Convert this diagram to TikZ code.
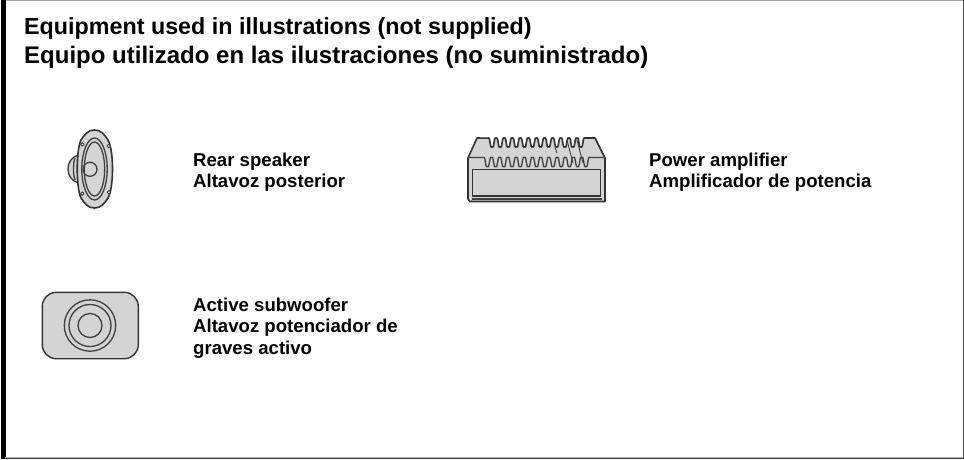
\documentclass[tikz,border=0pt]{standalone}
\usepackage{fontspec}
\setmainfont{Liberation Sans}
\tikzset{
  px/.style={x=1pt,y=-1pt},
  label/.style={anchor=north west,inner sep=0pt,font=\fontsize{18.6}{21.5}\selectfont\bfseries,align=left},
  titlebox/.style={anchor=north west,inner sep=0pt,font=\fontsize{23.3}{29}\selectfont\bfseries,align=left},
  part/.style={draw=black!80,fill=black!17,line width=1.3pt,line join=round},
  thin part/.style={draw=black!75,line width=1.3pt,line join=round},
}
\begin{document}
\begin{tikzpicture}[px]
\useasboundingbox (0,0) rectangle (964,459);
\fill[white] (0,0) rectangle (964,459);
% frame
\draw[black!35,line width=1pt] (5,0.5) -- (964,0.5);
\fill[black] (1,0) rectangle (5.5,459);
\draw[black!30,line width=1pt] (5,457) -- (964,457);
\draw[black!75,line width=1.2pt] (5,458.4) -- (964,458.4);
\draw[black!70,line width=1pt] (963,0) -- (963,459);
% titles
\node[titlebox] (title) at (24,17.5) {Equipment used in illustrations (not supplied)\\{\fontsize{24}{29}\selectfont Equipo utilizado en las ilustraciones (no suministrado)}};
% rear speaker
\draw[part] (79,155) .. controls (71,157) and (68,163) .. (68,169) .. controls (68,175) and (71,181) .. (79,183) -- cycle;
\draw[thin part] (75,158) .. controls (73,164) and (73,174) .. (75,180);
\draw[part,line width=1.6pt] (94.5,130) .. controls (101,130) and (104,134) .. (108,140)
  .. controls (114,150) and (114,188) .. (108,198)
  .. controls (104,204) and (101,208) .. (94.5,208)
  .. controls (88,208) and (85,204) .. (81,198)
  .. controls (76,188) and (76,150) .. (81,140)
  .. controls (85,134) and (88,130) .. (94.5,130) -- cycle;
\draw[thin part] (94.5,169) ellipse [x radius=12.7,y radius=31];
\draw[thin part] (94.5,169) ellipse [x radius=10.2,y radius=27];
\draw[thin part] (90,169.3) circle [radius=7];
\foreach \p in {(82.3,144.5),(108.7,146),(82.3,193.7),(109,192.3)}
  \draw[thin part,fill=white,line width=.9pt] \p circle [radius=1.8];
\node[label] (speaker) at (193,152.5) {Rear speaker\\Altavoz posterior};
% power amplifier
\draw[part,line width=1.6pt] (470,201.5) -- (605,201.5) -- (605,158) -- (595,138) -- (585,138)
  -- plot[domain=12:0,samples=360,smooth] ({488+\x*8.08},{142.5-5.2*(cos(360*\x)-cos(1080*\x)/6)})
  -- (477,138) -- (468,158) -- (468,199) -- cycle;
\draw[thin part] (468,157.5) -- (483.3,157.5)
  -- plot[domain=0:13,samples=390,smooth] ({483.3+\x*8.2},{162-5.4*(cos(360*\x)-cos(1080*\x)/6)})
  -- (605,157.5);
\draw[thin part,line width=.9pt] (567,140) -- (573,163) (577,140) -- (583,163) (555,147) -- (557,153);
\draw[part] (472.5,169.5) rectangle (600.5,196);
\draw[thin part] (472,199) -- (602,199);
\node[label] (amp) at (649,152.5) {Power amplifier\\Amplificador de potencia};
% active subwoofer
\draw[part,line width=1.4pt,rounded corners=14pt] (42.3,292.3) rectangle (138.3,358.7);
\draw[thin part] (90,325.5) circle [radius=25.7];
\draw[thin part] (90,325.5) circle [radius=21];
\draw[thin part] (90,325.5) circle [radius=12];
\node[label] (sub) at (193,297.5) {Active subwoofer\\Altavoz potenciador de\\graves activo};
\end{tikzpicture}
\end{document}
